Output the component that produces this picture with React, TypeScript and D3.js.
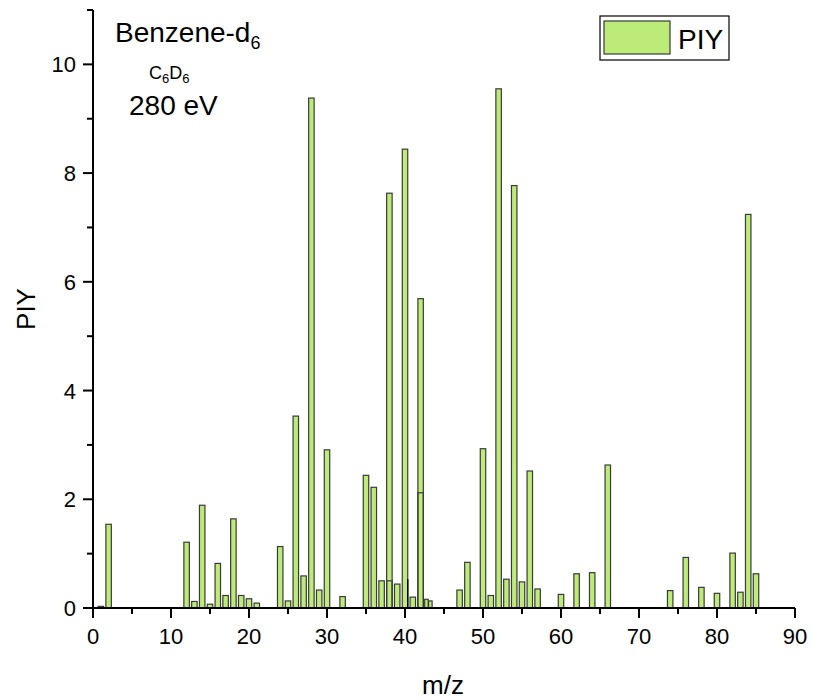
import React from "react";
import * as d3 from "d3";

// m/z positions and partial ion yields (PIY)
const massCharge = [1, 2, 12, 13, 14, 15, 16, 17, 18, 19, 20, 21, 24, 25, 26, 27, 28, 29, 30, 32, 35, 36, 37, 38, 39, 40, 41, 42, 47, 48, 50, 51, 52, 53, 54, 55, 56, 57, 60, 62, 64, 66, 74, 76, 78, 80, 82, 83, 84, 85];
const piyValues = [0.03, 1.54, 1.21, 0.12, 1.89, 0.07, 0.82, 0.23, 1.64, 0.23, 0.17, 0.09, 1.13, 0.13, 3.53, 0.59, 9.38, 0.33, 2.91, 0.21, 2.44, 2.22, 0.5, 7.63, 0.44, 8.44, 0.2, 5.69, 0.33, 0.84, 2.93, 0.23, 9.55, 0.53, 7.77, 0.48, 2.52, 0.35, 0.25, 0.63, 0.65, 2.63, 0.32, 0.93, 0.38, 0.27, 1.01, 0.29, 7.24, 0.63];

// second entries that share a channel with a taller bar
const overlapMz = [38, 42];
const overlapPiy = [0.5, 2.12];

// split channel near m/z 43
const splitMz = [42.75, 43.25];
const splitPiy = [0.16, 0.13];

// thin spike next to m/z 40
const spikeMz = [40.35];
const spikePiy = [0.53];

const xTicks = [0, 10, 20, 30, 40, 50, 60, 70, 80, 90];
const yTicks = [0, 2, 4, 6, 8, 10];

const W = 813;
const H = 700;
const FONT = "'Liberation Sans', Arial, sans-serif";
const FILL = "#bdeb78";
const EDGE = "#3a3a3a";

export default function App() {
  const x = d3.scaleLinear().domain([0, 90]).range([93, 795]);
  const y = d3.scaleLinear().domain([0, 11]).range([608, 10]);
  const barW = x(0.7) - x(0);
  const splitW = x(0.45) - x(0);

  const xMinor = d3.range(5, 90, 10);
  const yMinor = d3.range(1, 12, 2);

  const bars = massCharge.map((m, i) => ({ m, v: piyValues[i] }));
  const overlaps = overlapMz.map((m, i) => ({ m, v: overlapPiy[i] }));
  const splits = splitMz.map((m, i) => ({ m, v: splitPiy[i] }));
  const spikes = spikeMz.map((m, i) => ({ m, v: spikePiy[i] }));

  return (
    <div style={{ position: "absolute", left: 0, top: 0 }}>
      <svg width={W} height={H} style={{ display: "block", background: "#fff" }} fontFamily={FONT}>
        {/* bars */}
        <g stroke={EDGE} strokeWidth={1.2} fill={FILL}>
          {bars.map((b, i) => (
            <rect key={i} x={x(b.m) - barW / 2} y={y(b.v)} width={barW} height={y(0) - y(b.v)} />
          ))}
          {overlaps.map((b, i) => (
            <rect key={"o" + i} x={x(b.m) - barW / 2} y={y(b.v)} width={barW} height={y(0) - y(b.v)} fill="none" />
          ))}
          {splits.map((b, i) => (
            <rect key={"s" + i} x={x(b.m) - splitW / 2} y={y(b.v)} width={splitW} height={y(0) - y(b.v)} />
          ))}
        </g>
        {spikes.map((s, i) => (
          <line key={"k" + i} x1={x(s.m)} x2={x(s.m)} y1={y(0)} y2={y(s.v)} stroke="#000" strokeWidth={1.5} />
        ))}

        {/* axes */}
        <g stroke="#000" strokeWidth={2}>
          <line x1={x(0)} x2={x(90)} y1={y(0)} y2={y(0)} />
          <line x1={x(0)} x2={x(0)} y1={y(0)} y2={y(11)} />
          {xTicks.map((t) => (
            <line key={"xt" + t} x1={x(t)} x2={x(t)} y1={y(0)} y2={y(0) + 10} />
          ))}
          {xMinor.map((t) => (
            <line key={"xm" + t} x1={x(t)} x2={x(t)} y1={y(0)} y2={y(0) + 6} />
          ))}
          {yTicks.map((t) => (
            <line key={"yt" + t} x1={x(0)} x2={x(0) - 10} y1={y(t)} y2={y(t)} />
          ))}
          {yMinor.map((t) => (
            <line key={"ym" + t} x1={x(0)} x2={x(0) - 6} y1={y(t)} y2={y(t)} />
          ))}
        </g>

        {/* tick labels */}
        <g fontSize={22} fill="#000">
          {xTicks.map((t) => (
            <text key={"xl" + t} x={x(t)} y={y(0) + 36} textAnchor="middle">
              {t}
            </text>
          ))}
          {yTicks.map((t) => (
            <text key={"yl" + t} x={x(0) - 17} y={y(t) + 8} textAnchor="end">
              {t}
            </text>
          ))}
        </g>

        {/* axis titles */}
        <text x={443} y={694} fontSize={26} textAnchor="middle" fill="#000">
          m/z
        </text>
        <text transform={`translate(35,${y(5.5)}) rotate(-90)`} fontSize={26} textAnchor="middle" fill="#000">
          PIY
        </text>

        {/* annotations */}
        <text x={115} y={42} fontSize={28} fill="#000">
          Benzene-d<tspan fontSize={18} dy={7}>6</tspan>
        </text>
        <text x={149} y={79} fontSize={18} fill="#000">
          C<tspan fontSize={13} dy={4}>6</tspan>
          <tspan dy={-4}>D</tspan>
          <tspan fontSize={13} dy={4}>6</tspan>
        </text>
        <text x={129} y={115} fontSize={28} fill="#000">
          280 eV
        </text>

        {/* legend */}
        <rect x={600} y={16} width={129} height={44} fill="#fff" stroke="#000" strokeWidth={1.2} />
        <rect x={604} y={21} width={66} height={33} fill={FILL} stroke={EDGE} strokeWidth={1.2} />
        <text x={678} y={49} fontSize={28} fill="#000">
          PIY
        </text>
      </svg>
    </div>
  );
}
